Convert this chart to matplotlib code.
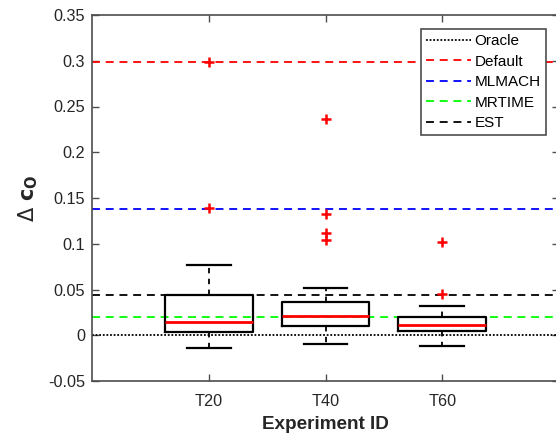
import matplotlib
matplotlib.use("Agg")
import matplotlib.pyplot as plt

plt.rcParams['font.family'] = ['Liberation Sans', 'DejaVu Sans']

experiments = ['T20', 'T40', 'T60']
q1 = [0.004, 0.010, 0.0046]
med = [0.0144, 0.0213, 0.0108]
q3 = [0.0436, 0.036, 0.0199]
whis_lo = [-0.0137, -0.0096, -0.0118]
whis_hi = [0.077, 0.052, 0.032]
fliers = [
    [0.299, 0.1395],
    [0.236, 0.133, 0.1115, 0.1037],
    [0.1015, 0.045],
]

# reference levels
ref_names = ['Oracle', 'Default', 'MLMACH', 'MRTIME', 'EST']
ref_values = [0.0, 0.299, 0.1376, 0.0196, 0.0443]
ref_colors = ['black', '#ff0000', '#0000ff', '#00ff00', 'black']
ref_styles = [':', '--', '--', '--', '--']

fig = plt.figure(figsize=(5.56, 4.34), dpi=100)
ax = fig.add_axes([92 / 556, 1 - 381 / 434, (559 - 92) / 556, (381 - 15) / 434])

for name, val, col, ls in zip(ref_names, ref_values, ref_colors, ref_styles):
    ax.axhline(val, color=col, ls=ls, lw=1.3, label=name,
               dashes=(4.4, 3.2) if ls == '--' else (1, 1))

stats = []
for i in range(len(experiments)):
    stats.append({
        'med': med[i], 'q1': q1[i], 'q3': q3[i],
        'whislo': whis_lo[i], 'whishi': whis_hi[i],
        'fliers': fliers[i], 'label': experiments[i],
    })

ax.bxp(stats, positions=[1, 2, 3], widths=0.75, showfliers=True,
       boxprops=dict(color='black', lw=1.6),
       medianprops=dict(color='#ff0000', lw=2),
       whiskerprops=dict(color='black', lw=1.3, ls=(0, (3, 3))),
       capprops=dict(color='black', lw=1.6),
       capwidths=0.375,
       flierprops=dict(marker='+', markeredgecolor='#ff0000',
                       markersize=7, markeredgewidth=1.8))

ax.set_xlim(0, 4)
ax.set_ylim(-0.05, 0.35)
ax.set_xticks([1, 2, 3])
ax.set_xticklabels(experiments)
ax.set_yticks([-0.05, 0, 0.05, 0.1, 0.15, 0.2, 0.25, 0.3, 0.35])
ax.set_yticklabels(['-0.05', '0', '0.05', '0.1', '0.15', '0.2', '0.25', '0.3', '0.35'])

grey = '#4d4d4d'
for s in ax.spines.values():
    s.set_color(grey)
    s.set_linewidth(1.2)
ax.tick_params(direction='in', length=5, width=1, colors=grey,
               labelcolor='#262626', labelsize=11.7,
               top=True, right=True)
ax.tick_params(axis='x', pad=9)
ax.tick_params(axis='y', pad=5)

ax.set_xlabel('Experiment ID', fontsize=13.6, fontweight='bold', color='#262626', labelpad=5.5)
ax.set_ylabel(r'$\Delta\ \mathbf{c_O}$', fontsize=15, color='#262626', labelpad=6)

leg = ax.legend(loc='upper left', bbox_to_anchor=(421 / 556, 1 - 29 / 434),
                bbox_transform=fig.transFigure, fontsize=11,
                frameon=True, fancybox=False, framealpha=1,
                handlelength=2.9, handletextpad=0.25, borderpad=0.35,
                labelspacing=0.42, borderaxespad=0)
leg.get_frame().set_edgecolor(grey)
leg.get_frame().set_linewidth(1.2)

fig.savefig('out.png', dpi=100)
